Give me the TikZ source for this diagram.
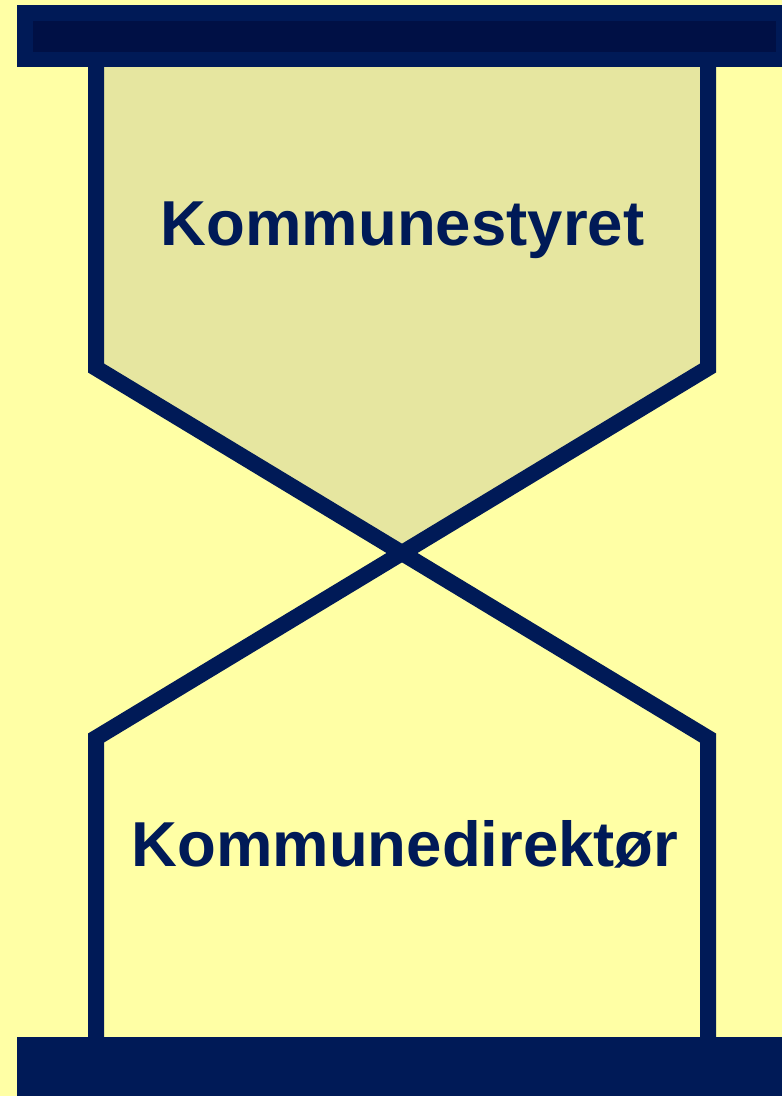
\documentclass[tikz,border=0pt]{standalone}
\usepackage{fontspec}
\setmainfont{Liberation Sans}
\usetikzlibrary{positioning}
\definecolor{bgyellow}{RGB}{255,255,165}
\definecolor{glassfill}{RGB}{230,230,160}
\definecolor{navy}{RGB}{0,26,87}
\definecolor{darknavy}{RGB}{0,16,69}

\begin{document}
\begin{tikzpicture}[x=1pt, y=-1pt,
barnode/.style={fill=navy, draw=none},
glassline/.style={draw=navy, line width=16pt},
textnode/.style={font=\bfseries\fontsize{63.5}{70}\selectfont, text=navy, inner sep=0pt, anchor=base},
]

% Background
\fill[bgyellow] (0,0) rectangle (782,1096);
\useasboundingbox (0,0) rectangle (782,1096);

% Corners of the glass
\coordinate (topleft) at (96,60);
\coordinate (topright) at (708,60);
\coordinate (waistleft) at (96,368);
\coordinate (waistright) at (708,368);
\coordinate (cross) at (402,551);
\coordinate (footleft) at (96,738);
\coordinate (footright) at (708,738);
\coordinate (bottomleft) at (96,1045);
\coordinate (bottomright) at (708,1045);

% Upper chamber
\fill[glassfill] (topleft) -- (waistleft) -- (cross) -- (waistright) -- (topright) -- cycle;

% Outline
\draw[glassline] (topleft) -- (waistleft) -- (footright) -- (bottomright);
\draw[glassline] (topright) -- (waistright) -- (footleft) -- (bottomleft);

% Bars
\fill[barnode] (17,5) rectangle (782,67);
\fill[darknavy] (33,21) rectangle (776,52);
\fill[barnode] (17,1037) rectangle (782,1096);

% Nodes
\node[textnode] (upper) at (402.5,245) {Kommunestyret};
\node[textnode] (lower) at (405,866) {Kommunedirektør};

\end{tikzpicture}
\end{document}
